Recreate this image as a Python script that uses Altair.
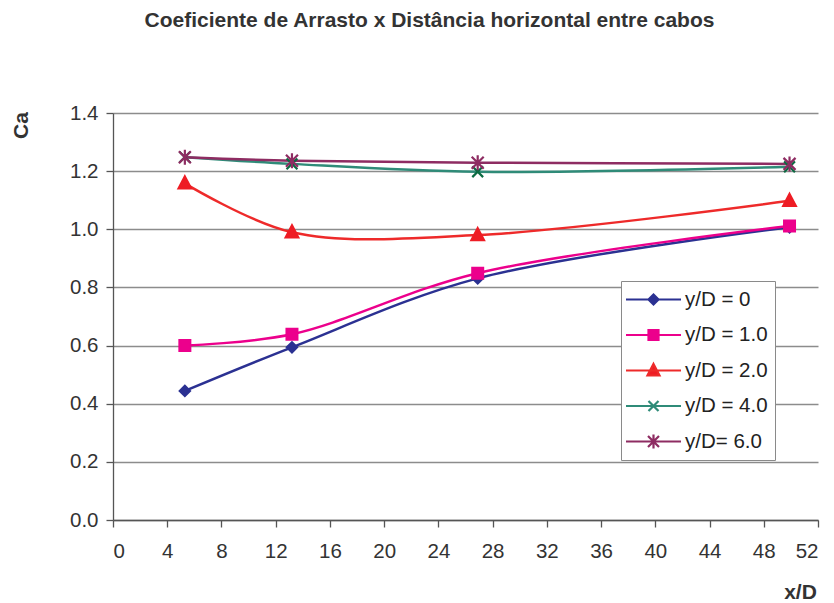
import altair as alt
import pandas as pd

# Horizontal distance between cables (x/D) and drag coefficient per vertical spacing (y/D)
x_d = [5.3, 13.2, 26.9, 49.9]
series = ["y/D = 0", "y/D = 1.0", "y/D = 2.0", "y/D = 4.0", "y/D= 6.0"]
ca_0 = [0.444, 0.594, 0.831, 1.007]
ca_1 = [0.600, 0.639, 0.849, 1.011]
ca_2 = [1.158, 0.990, 0.980, 1.098]
ca_4 = [1.248, 1.225, 1.198, 1.215]
ca_6 = [1.248, 1.236, 1.229, 1.225]
x_ticks = list(range(0, 53, 4))
y_ticks = [0.0, 0.2, 0.4, 0.6, 0.8, 1.0, 1.2, 1.4]

line_colors = ["#2B3192", "#EC008C", "#EE2A2A", "#2F8B78", "#8E2C62"]
marker_colors = ["#2B3192", "#EC008C", "#EE1C24", "#0B6B42", "#8E2C62"]

# marker outlines (unit space, scaled by symbol size)
marker_paths = [
    "M0,-0.85L0.85,0L0,0.85L-0.85,0Z",
    "M-0.9,-0.9H0.9V0.9H-0.9Z",
    "M0,-1.15L1.05,0.85L-1.05,0.85Z",
    "M-0.9,-0.9L0.9,0.9M-0.9,0.9L0.9,-0.9",
    "M-1,-1L1,1M-1,1L1,-1M0,-1.25V1.25",
]
# legend symbols: a line segment with the marker on it
legend_paths = [
    "M-2.75,0H2.75M0,-0.5L0.5,0L0,0.5L-0.5,0Z",
    "M-2.75,0H2.75M-0.5,-0.5H0.5V0.5H-0.5Z",
    "M-2.75,0H2.75M0,-0.65L0.6,0.5L-0.6,0.5Z",
    "M-2.75,0H2.75M-0.5,-0.5L0.5,0.5M-0.5,0.5L0.5,-0.5",
    "M-2.75,0H2.75M-0.55,-0.55L0.55,0.55M-0.55,0.55L0.55,-0.55M0,-0.7V0.7",
]

rows = []
for name, vals in zip(series, [ca_0, ca_1, ca_2, ca_4, ca_6]):
    for xv, cv in zip(x_d, vals):
        rows.append({"x": xv, "ca": cv, "serie": name})
df = pd.DataFrame(rows)

FONT = "Liberation Sans"

x_enc = alt.X(
    "x:Q",
    scale=alt.Scale(domain=[0, 52], nice=False, zero=False),
    axis=alt.Axis(
        values=x_ticks, grid=False, title="x/D",
        titleX=687, titleY=72, titleAlign="center", titleBaseline="middle",
        titleAnchor="start",
    ),
)
y_enc = alt.Y(
    "ca:Q",
    scale=alt.Scale(domain=[0, 1.4], nice=False),
    axis=alt.Axis(
        values=y_ticks, format=".1f", grid=True, title="Ca",
        titleX=-92, titleY=12, titleAngle=-90, titleAlign="center",
        titleBaseline="middle", titleAnchor="start",
    ),
)

lines = alt.Chart(df).mark_line(strokeWidth=2.5, interpolate="catmull-rom").encode(
    x=x_enc,
    y=y_enc,
    color=alt.Color("serie:N", scale=alt.Scale(domain=series, range=line_colors), legend=None),
    detail="serie:N",
)

points = alt.Chart(df).mark_point(filled=True, size=144, strokeWidth=2.2, opacity=1).encode(
    x="x:Q",
    y="ca:Q",
    color=alt.Color("serie:N", scale=alt.Scale(domain=series, range=marker_colors), legend=None),
    stroke=alt.Stroke("serie:N", scale=alt.Scale(domain=series, range=marker_colors), legend=None),
    shape=alt.Shape("serie:N", scale=alt.Scale(domain=series, range=marker_paths), legend=None),
)

leg = alt.Legend(
    title=None, orient="none", legendX=508, legendY=168, direction="vertical",
    labelFont=FONT, labelFontSize=20.5, labelColor="#222222",
    symbolSize=400, symbolStrokeWidth=2.2, symbolOffset=14, labelOffset=20,
    rowPadding=13.5, padding=7, strokeColor="#8a8a8a", fillColor="#ffffff",
    symbolOpacity=1,
)

legend_layer = alt.Chart(df).transform_filter("false").mark_point(filled=True, strokeWidth=2.2).encode(
    x="x:Q",
    y="ca:Q",
    color=alt.Color("serie:N", scale=alt.Scale(domain=series, range=marker_colors), legend=leg),
    stroke=alt.Stroke("serie:N", scale=alt.Scale(domain=series, range=line_colors), legend=leg),
    shape=alt.Shape("serie:N", scale=alt.Scale(domain=series, range=legend_paths), legend=leg),
)

chart = (
    alt.layer(lines, points, legend_layer)
    .resolve_scale(color="independent", shape="independent", stroke="independent")
    .properties(
        width=705,
        height=407,
        autosize=alt.AutoSizeParams(type="none"),
        padding={"left": 113, "top": 113, "right": 16, "bottom": 83},
        title=alt.TitleParams(
            "Coeficiente de Arrasto x Distância horizontal entre cabos",
            font=FONT, fontSize=21, fontWeight="bold", color="#333333",
            anchor="middle", frame="group", dx=-36, offset=55, baseline="alphabetic",
        ),
        background="white",
    )
    .configure_view(stroke=None)
    .configure_axis(
        labelFont=FONT, labelFontSize=20.5, labelColor="#333333",
        titleFont=FONT, titleFontSize=21, titleFontWeight="bold", titleColor="#333333",
        domainColor="#555555", domainWidth=1.3, tickColor="#555555", tickWidth=1.3, tickSize=7,
        gridColor="#8c8c8c", gridWidth=1.3,
    )
    .configure_axisX(labelPadding=14)
    .configure_axisY(labelPadding=8)
)

chart.save("out.html", embed_options={"renderer": "svg", "actions": False})
